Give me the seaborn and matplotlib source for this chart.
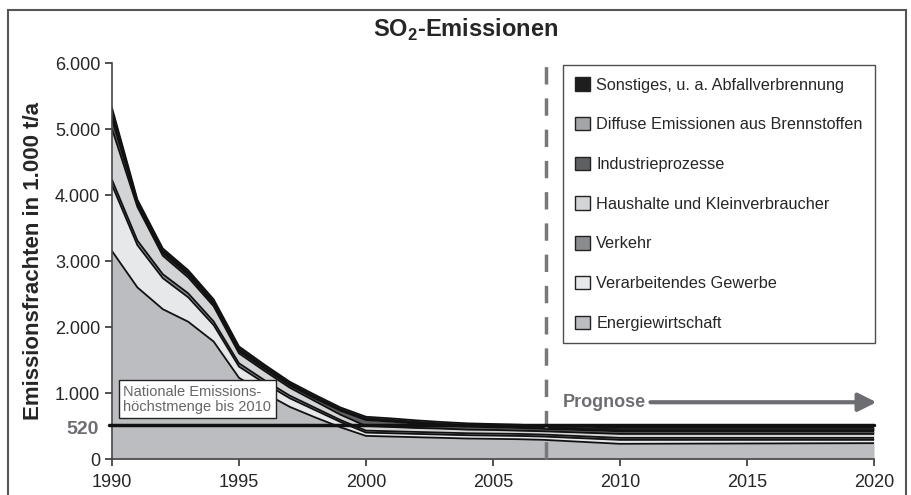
import seaborn as sns
import matplotlib.pyplot as plt
import numpy as np
import pandas as pd
from matplotlib.patches import Patch, Rectangle
from matplotlib.ticker import FuncFormatter

years = [1990, 1991, 1992, 1993, 1994, 1995, 1996, 1997, 1998, 1999, 2000,
         2001, 2002, 2003, 2004, 2005, 2006, 2007, 2010, 2015, 2020]

energie = [3150, 2600, 2270, 2080, 1780, 1230, 1000, 790, 630, 480, 350,
           340, 330, 320, 310, 305, 300, 290, 230, 235, 240]
verarbeitend = [1000, 640, 470, 370, 250, 170, 150, 130, 110, 80, 50,
                50, 50, 50, 50, 50, 50, 50, 60, 55, 50]
verkehr = [80, 70, 60, 60, 55, 50, 45, 40, 35, 30, 30,
           30, 30, 30, 30, 30, 30, 30, 30, 30, 30]
haushalte = [770, 510, 280, 240, 230, 150, 140, 120, 100, 80, 70,
             65, 60, 60, 55, 55, 50, 50, 60, 60, 60]
industrie = [150, 40, 40, 40, 35, 35, 35, 35, 40, 60, 90,
             80, 65, 50, 45, 40, 40, 35, 40, 40, 40]
diffuse = [60, 20, 20, 20, 20, 20, 15, 15, 15, 15, 15,
           15, 15, 15, 15, 15, 15, 15, 10, 10, 10]
sonstiges = [110, 50, 50, 50, 50, 50, 45, 40, 40, 35, 35,
             35, 35, 35, 35, 35, 35, 35, 45, 45, 45]

sectors = ["Energiewirtschaft", "Verarbeitendes Gewerbe", "Verkehr",
           "Haushalte und Kleinverbraucher", "Industrieprozesse",
           "Diffuse Emissionen aus Brennstoffen", "Sonstiges, u. a. Abfallverbrennung"]
colors = ["#bcbdc0", "#e7e8ea", "#8b8c8f", "#d3d4d6", "#5f6063", "#a4a5a8", "#1e1e1e"]

limit_value = 520
prognose_start = 2007.1

sns.set_style("white")
plt.rcParams['font.family'] = ['Liberation Sans', 'DejaVu Sans']
plt.rcParams['mathtext.fontset'] = 'custom'
plt.rcParams['mathtext.rm'] = 'Liberation Sans'
plt.rcParams['mathtext.bf'] = 'Liberation Sans:bold'

df = pd.DataFrame({"Jahr": years, sectors[0]: energie, sectors[1]: verarbeitend,
                   sectors[2]: verkehr, sectors[3]: haushalte, sectors[4]: industrie,
                   sectors[5]: diffuse, sectors[6]: sonstiges})

fig = plt.figure(figsize=(9.12, 4.95), dpi=100)
ax = fig.add_axes([112 / 912, 1 - 459 / 495, 762 / 912, 396 / 495])

ax.stackplot(df["Jahr"], [df[s] for s in sectors], colors=colors, linewidth=0)

# boundaries between layers
cum = df[sectors].cumsum(axis=1)
for s in sectors:
    sns.lineplot(x=df["Jahr"], y=cum[s], ax=ax, color="#111111", linewidth=1.3)

ax.set_xlim(1990, 2020)
ax.set_ylim(0, 6000)
ax.set_xticks(range(1990, 2021, 5))
ax.set_yticks(range(0, 6001, 1000))
ax.yaxis.set_major_formatter(FuncFormatter(lambda v, p: f"{int(v):,}".replace(",", ".")))
ax.tick_params(axis="both", labelsize=13, length=5, width=1.2, color="#333333",
               direction="out", bottom=True, left=True)
ax.tick_params(axis="x", pad=6)
for side in ["top", "right"]:
    ax.spines[side].set_visible(False)
for side in ["left", "bottom"]:
    ax.spines[side].set_color("#444444")
    ax.spines[side].set_linewidth(1.2)
ax.set_xlabel("")
ax.set_ylabel("Emissionsfrachten in 1.000 t/a", fontsize=16, fontweight="bold", labelpad=8)

# limit line
ax.plot([1989.9, 2020], [limit_value, limit_value], color="#111111", linewidth=2.5,
        clip_on=False, zorder=5)
ax.text(-0.018, limit_value - 80, str(limit_value), transform=ax.get_yaxis_transform(),
        ha="right", va="center", fontsize=14, fontweight="bold", color="#6d6e71")
ax.text(1990.45, 905, "Nationale Emissions-\nhöchstmenge bis 2010", fontsize=10.5,
        color="#666666", va="center", ha="left", linespacing=1.1, zorder=6,
        bbox=dict(boxstyle="square,pad=0.3", facecolor="white", edgecolor="#222222", linewidth=1))

# forecast marker
ax.plot([prognose_start, prognose_start], [0, 6060], color="#77787b", linewidth=2.5,
        dashes=(5, 4), clip_on=False, zorder=4)
ax.text(2007.75, 860, "Prognose", fontsize=13, fontweight="bold", color="#6d6e71",
        va="center", ha="left")
ax.annotate("", xy=(2020.1, 860), xytext=(2011.2, 860), annotation_clip=False,
            arrowprops=dict(arrowstyle="-|>,head_length=1.1,head_width=0.55",
                            color="#6d6e71", linewidth=3, shrinkA=0, shrinkB=0))

handles = [Patch(facecolor=c, edgecolor="#222222", linewidth=1, label=s)
           for s, c in zip(sectors, colors)]
leg = ax.legend(handles=handles[::-1], loc="upper left", bbox_to_anchor=(0.592, 0.995),
                fontsize=11.7, frameon=True, fancybox=False, edgecolor="#222222",
                labelspacing=1.5, handlelength=0.9, handleheight=0.9,
                handletextpad=0.4, borderpad=0.75, borderaxespad=0)
leg.get_frame().set_linewidth(1)
leg.set_zorder(10)

fig.text(466 / 912, 1 - 30 / 495, r"SO$_\mathbf{2}$-Emissionen", ha="center", va="center",
         fontsize=17, fontweight="bold")

fig.patches.append(Rectangle((8 / 912, -0.05), 898 / 912, 1.05 - 10 / 495,
                             transform=fig.transFigure, fill=False,
                             edgecolor="#555555", linewidth=1.5))

fig.savefig("out.png", dpi=100)
